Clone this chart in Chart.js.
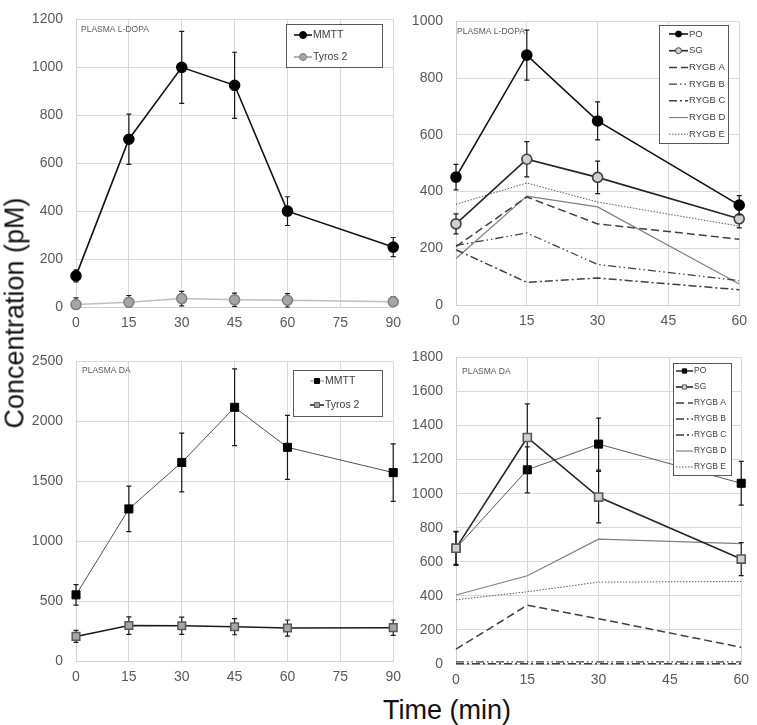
<!DOCTYPE html>
<html>
<head>
<meta charset="utf-8">
<script src="https://cdn.jsdelivr.net/npm/chart.js@4.4.1/dist/chart.umd.min.js"></script>
<style>
  body { margin: 0; background: #fff; width: 757px; height: 725px; position: relative; overflow: hidden; font-family: "Liberation Sans", Arial, sans-serif; }
  .panel { position: absolute; }
  #yTitle { position: absolute; left: 15px; top: 313px; transform: translate(-50%, -50%) rotate(-90deg); font-size: 27px; white-space: nowrap; color: #111; }
  #xTitle { position: absolute; left: 447px; top: 710px; transform: translate(-50%, -50%); font-size: 27px; white-space: nowrap; color: #111; }
</style>
</head>
<body>
<div class="panel" style="left:26px;top:-2px;width:383px;height:337px"><canvas id="ldopaA" width="383" height="337"></canvas></div>
<div class="panel" style="left:406px;top:0px;width:349px;height:333px"><canvas id="ldopaB" width="349" height="333"></canvas></div>
<div class="panel" style="left:26px;top:340px;width:383px;height:349px"><canvas id="daA" width="383" height="349"></canvas></div>
<div class="panel" style="left:406px;top:336px;width:351px;height:356px"><canvas id="daB" width="351" height="356"></canvas></div>
<div id="yTitle">Concentration (pM)</div>
<div id="xTitle">Time (min)</div>
<script>
// time points (min)
const timesLong = [0, 15, 30, 45, 60, 90];
const timesShort = [0, 15, 30, 60];

// plasma L-DOPA, MMTT vs Tyros 2
const ldopaMMTT = [130, 700, 1000, 925, 400, 250];
const ldopaMMTTErr = [25, 105, 150, 138, 60, 40];
const ldopaTyros = [10, 20, 35, 30, 28, 22];
const ldopaTyrosErr = [28, 28, 30, 28, 28, 20];

// plasma L-DOPA, PO / SG / RYGB
const ldopaPO = [451, 881, 649, 352];
const ldopaPOErr = [45, 88, 67, 34];
const ldopaSG = [286, 514, 450, 304];
const ldopaSGErr = [35, 62, 57, 32];
const ldopaRygbA = [206, 381, 286, 232];
const ldopaRygbB = [210, 254, 143, 86];
const ldopaRygbC = [195, 80, 95, 54];
const ldopaRygbD = [164, 384, 346, 74];
const ldopaRygbE = [355, 430, 363, 278];

// plasma DA, MMTT vs Tyros 2
const daMMTT = [552, 1269, 1657, 2117, 1783, 1572];
const daMMTTErr = [85, 190, 245, 320, 267, 240];
const daTyros = [205, 296, 294, 286, 275, 278];
const daTyrosErr = [50, 73, 72, 67, 67, 64];

// plasma DA, PO / SG / RYGB
const daPO = [679, 1140, 1291, 1061];
const daPOErr = [100, 135, 153, 128];
const daSG = [680, 1330, 980, 616];
const daSGErr = [95, 197, 151, 97];
const daRygbA = [87, 345, 266, 98];
const daRygbB = [12, 12, 12, 12];
const daRygbC = [2, 2, 2, 2];
const daRygbD = [405, 518, 733, 707];
const daRygbE = [377, 424, 481, 484];

Chart.defaults.font.family = '"Liberation Sans", Arial, sans-serif';

function pts(times, vals) {
  return times.map((t, i) => ({ x: t, y: vals[i] }));
}

// draws error bars of a dataset just before the dataset itself
const errorBars = {
  id: 'errorBars',
  beforeDatasetDraw(chart, args) {
    const ds = chart.data.datasets[args.index];
    if (!ds.errors) return;
    const ys = chart.scales.y;
    const ctx = chart.ctx;
    ctx.save();
    ctx.strokeStyle = '#1a1a1a';
    ctx.lineWidth = 1.2;
    args.meta.data.forEach((p, i) => {
      const v = ds.data[i].y, e = ds.errors[i];
      const top = ys.getPixelForValue(v + e);
      const bot = ys.getPixelForValue(Math.max(v - e, ys.min));
      ctx.beginPath();
      ctx.moveTo(p.x, top); ctx.lineTo(p.x, bot);
      ctx.moveTo(p.x - 2.5, top); ctx.lineTo(p.x + 2.5, top);
      ctx.moveTo(p.x - 2.5, bot); ctx.lineTo(p.x + 2.5, bot);
      ctx.stroke();
    });
    ctx.restore();
  }
};

function marker(ctx, style, x, y, r, fill, stroke) {
  ctx.fillStyle = fill;
  ctx.strokeStyle = stroke;
  ctx.lineWidth = 1;
  ctx.beginPath();
  if (style === 'rect') {
    const s = r * Math.SQRT1_2;
    ctx.rect(x - s, y - s, 2 * s, 2 * s);
  } else {
    ctx.arc(x, y, r, 0, Math.PI * 2);
  }
  ctx.fill();
  ctx.stroke();
}

// boxed legend inside the plot area + panel caption
const boxLegend = {
  id: 'boxLegend',
  afterDraw(chart, args, o) {
    const { ctx, chartArea } = chart;
    ctx.save();
    ctx.font = '8.5px "Liberation Sans", Arial, sans-serif';
    ctx.fillStyle = '#595959';
    ctx.textBaseline = 'middle';
    ctx.fillText(o.caption, chartArea.left + o.capX, chartArea.top + o.capY);

    const x0 = Math.round(chartArea.right - o.right - o.width);
    const y0 = Math.round(chartArea.top + o.top);
    ctx.fillStyle = '#fff';
    ctx.fillRect(x0, y0, o.width, o.height);
    ctx.strokeStyle = '#595959';
    ctx.lineWidth = 1;
    ctx.strokeRect(x0 + 0.5, y0 + 0.5, o.width, o.height);
    ctx.font = o.fontSize + 'px "Liberation Sans", Arial, sans-serif';
    chart.data.datasets.forEach((ds, i) => {
      const cy = y0 + o.first + i * o.step;
      const sx = x0 + o.symX;
      ctx.save();
      ctx.setLineDash(ds.borderDash || []);
      ctx.strokeStyle = ds.legendColor || ds.borderColor;
      ctx.lineWidth = ds.legendWidth || ds.borderWidth;
      ctx.beginPath();
      ctx.moveTo(sx, cy); ctx.lineTo(sx + o.symLen, cy);
      ctx.stroke();
      ctx.restore();
      if (ds.pointRadius > 0) {
        marker(ctx, ds.pointStyle, sx + o.symLen / 2, cy, o.pointR, ds.pointBackgroundColor, ds.pointBorderColor);
      }
      ctx.fillStyle = '#404040';
      ctx.fillText(ds.label, sx + o.symLen + 1, cy);
    });
    ctx.restore();
  }
};

function axes(xMax, yMax, yStep) {
  const tick = { color: '#595959', font: { size: 14 }, callback: v => String(v) };
  return {
    x: {
      type: 'linear', min: 0, max: xMax,
      ticks: Object.assign({ stepSize: 15, padding: 8 }, tick),
      grid: { color: '#d9d9d9', drawTicks: false },
      border: { color: '#d0d0d0' },
      afterFit(s) { s.height = 28; }
    },
    y: {
      min: 0, max: yMax,
      ticks: Object.assign({ stepSize: yStep, padding: 13 }, tick),
      grid: { color: '#d9d9d9', drawTicks: false },
      border: { color: '#d0d0d0' },
      afterFit(s) { s.width = 50; }
    }
  };
}

function series(label, times, vals, style) {
  return Object.assign({
    label: label,
    data: pts(times, vals),
    clip: false,
    pointRadius: 0,
    borderWidth: 1.5,
    borderColor: '#404040'
  }, style);
}

function makeChart(id, datasets, xMax, yMax, yStep, pad, legend) {
  return new Chart(document.getElementById(id), {
    type: 'line',
    data: { datasets: datasets },
    options: {
      responsive: false,
      animation: false,
      events: [],
      layout: { padding: pad },
      scales: axes(xMax, yMax, yStep),
      plugins: { legend: { display: false }, tooltip: { enabled: false }, boxLegend: legend }
    },
    plugins: [errorBars, boxLegend]
  });
}

const dashA = [8, 4];
const dashB = [8, 3, 1.5, 3, 1.5, 3];
const dashC = [8, 3, 2, 3];
const dotE = [1.5, 1.5];

// top left
makeChart('ldopaA', [
  series('MMTT', timesLong, ldopaMMTT, { errors: ldopaMMTTErr, borderColor: '#111', borderWidth: 1.6, pointRadius: 5, pointStyle: 'circle', pointBackgroundColor: '#000', pointBorderColor: '#000' }),
  series('Tyros 2', timesLong, ldopaTyros, { errors: ldopaTyrosErr, borderColor: '#bfbfbf', borderWidth: 1.5, pointRadius: 5, pointStyle: 'circle', pointBackgroundColor: '#a6a6a6', pointBorderColor: '#7f7f7f', legendColor: '#999' })
], 90, 1200, 200, { top: 9, right: 10 },
{ caption: 'PLASMA L-DOPA', capX: 5, capY: 10, right: 11, width: 96, top: 5, height: 43, first: 11, step: 22, symX: 8, symLen: 18, pointR: 3.5, fontSize: 10.5 });

// top right
makeChart('ldopaB', [
  series('PO', timesShort, ldopaPO, { errors: ldopaPOErr, borderColor: '#111', borderWidth: 1.6, pointRadius: 5, pointStyle: 'circle', pointBackgroundColor: '#000', pointBorderColor: '#000' }),
  series('SG', timesShort, ldopaSG, { errors: ldopaSGErr, borderColor: '#262626', borderWidth: 1.6, pointRadius: 5, pointStyle: 'circle', pointBackgroundColor: '#d0d0d0', pointBorderColor: '#404040' }),
  series('RYGB A', timesShort, ldopaRygbA, { borderDash: dashA }),
  series('RYGB B', timesShort, ldopaRygbB, { borderDash: dashB, borderWidth: 1.3 }),
  series('RYGB C', timesShort, ldopaRygbC, { borderDash: dashC }),
  series('RYGB D', timesShort, ldopaRygbD, { borderColor: '#808080', borderWidth: 1.2 }),
  series('RYGB E', timesShort, ldopaRygbE, { borderColor: '#595959', borderWidth: 1, borderDash: dotE })
], 60, 1000, 200, { top: 14, right: 12 },
{ caption: 'PLASMA L-DOPA', capX: 1, capY: 10, right: 11, width: 69, top: 4, height: 118, first: 9, step: 16.7, symX: 10, symLen: 19, pointR: 3, fontSize: 9.5 });

// bottom left
makeChart('daA', [
  series('MMTT', timesLong, daMMTT, { errors: daMMTTErr, borderColor: '#505050', borderWidth: 1, pointRadius: 5.7, pointStyle: 'rect', pointBackgroundColor: '#000', pointBorderColor: '#000', legendColor: '#888' }),
  series('Tyros 2', timesLong, daTyros, { errors: daTyrosErr, borderColor: '#1a1a1a', borderWidth: 1.5, pointRadius: 5.4, pointStyle: 'rect', pointBackgroundColor: '#a6a6a6', pointBorderColor: '#595959' })
], 90, 2500, 500, { top: 12, right: 10 },
{ caption: 'PLASMA DA', capX: 6, capY: 9, right: 11, width: 89, top: 9, height: 46, first: 11, step: 24, symX: 17, symLen: 14, pointR: 3.5, fontSize: 10.5 });

// bottom right
makeChart('daB', [
  series('PO', timesShort, daPO, { errors: daPOErr, order: 1, borderColor: '#595959', borderWidth: 1, pointRadius: 5.7, pointStyle: 'rect', pointBackgroundColor: '#000', pointBorderColor: '#000', legendColor: '#262626', legendWidth: 1.5 }),
  series('SG', timesShort, daSG, { errors: daSGErr, order: 0, borderColor: '#262626', borderWidth: 1.6, pointRadius: 5.7, pointStyle: 'rect', pointBackgroundColor: '#d0d0d0', pointBorderColor: '#595959' }),
  series('RYGB A', timesShort, daRygbA, { borderDash: dashA, order: 2 }),
  series('RYGB B', timesShort, daRygbB, { borderDash: dashB, borderWidth: 1.3, order: 2 }),
  series('RYGB C', timesShort, daRygbC, { borderDash: dashC, order: 2 }),
  series('RYGB D', timesShort, daRygbD, { borderColor: '#808080', borderWidth: 1.2, order: 2 }),
  series('RYGB E', timesShort, daRygbE, { borderColor: '#595959', borderWidth: 1, borderDash: dotE, order: 2 })
], 60, 1800, 200, { top: 10, right: 11 },
{ caption: 'PLASMA DA', capX: 6, capY: 14, right: 10, width: 58, top: 6, height: 112, first: 8, step: 16, symX: 3, symLen: 17, pointR: 3, fontSize: 8.5 });
</script>
</body>
</html>
